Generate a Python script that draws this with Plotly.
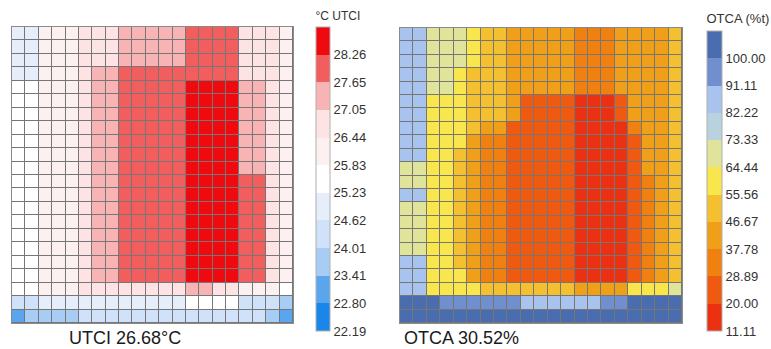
import plotly.graph_objects as go

W, H = 771, 349

# ---------------- data ----------------
utci_rows = [
    [24.9,24.9,26.1,26.1,26.1,26.7,26.7,26.7,27.4,27.4,27.4,27.4,27.4,28.0,28.0,28.0,28.0,26.7,26.7,26.7,26.1],
    [24.9,24.9,26.1,26.1,26.1,26.7,26.7,26.7,27.4,27.4,27.4,27.4,27.4,28.0,28.0,28.0,28.0,26.7,26.7,26.7,26.1],
    [24.9,24.9,26.1,26.1,26.1,26.7,26.7,26.7,27.4,27.4,27.4,27.4,27.4,28.0,28.0,28.0,28.0,26.7,26.7,26.7,26.1],
    [24.9,24.9,26.1,26.1,26.1,26.7,27.4,27.4,28.0,28.0,28.0,28.0,28.0,28.0,28.0,28.0,28.0,26.7,26.7,26.7,26.1],
    [25.5,25.5,26.1,26.1,26.1,26.7,27.4,27.4,28.0,28.0,28.0,28.0,28.0,28.6,28.6,28.6,28.6,27.4,27.4,26.7,26.1],
    [25.5,25.5,26.1,26.1,26.1,26.7,27.4,27.4,28.0,28.0,28.0,28.0,28.0,28.6,28.6,28.6,28.6,27.4,27.4,26.7,26.1],
    [25.5,25.5,26.1,26.1,26.1,26.7,27.4,27.4,28.0,28.0,28.0,28.0,28.0,28.6,28.6,28.6,28.6,27.4,27.4,26.7,26.1],
    [25.5,25.5,26.1,26.1,26.1,26.7,27.4,27.4,28.0,28.0,28.0,28.0,28.0,28.6,28.6,28.6,28.6,27.4,27.4,26.7,26.1],
    [25.5,25.5,26.1,26.1,26.1,26.7,27.4,27.4,28.0,28.0,28.0,28.0,28.0,28.6,28.6,28.6,28.6,27.4,27.4,26.7,26.1],
    [25.5,25.5,26.1,26.1,26.1,26.7,27.4,27.4,28.0,28.0,28.0,28.0,28.0,28.6,28.6,28.6,28.6,27.4,27.4,26.7,26.1],
    [25.5,25.5,26.1,26.1,26.1,26.7,27.4,27.4,28.0,28.0,28.0,28.0,28.0,28.6,28.6,28.6,28.6,27.4,27.4,26.7,26.1],
    [25.5,25.5,26.1,26.1,26.1,26.7,27.4,27.4,28.0,28.0,28.0,28.0,28.0,28.6,28.6,28.6,28.6,28.0,28.0,26.7,26.1],
    [25.5,25.5,26.1,26.1,26.1,26.7,27.4,27.4,28.0,28.0,28.0,28.0,28.0,28.6,28.6,28.6,28.6,28.0,28.0,26.7,26.1],
    [25.5,25.5,26.1,26.1,26.1,26.7,27.4,27.4,28.0,28.0,28.0,28.0,28.0,28.6,28.6,28.6,28.6,28.0,28.0,26.7,26.1],
    [25.5,25.5,26.1,26.1,26.1,26.7,27.4,27.4,28.0,28.0,28.0,28.0,28.0,28.6,28.6,28.6,28.6,28.0,28.0,26.7,26.1],
    [25.5,25.5,26.1,26.1,26.1,26.7,27.4,27.4,28.0,28.0,28.0,28.0,28.0,28.6,28.6,28.6,28.6,28.0,28.0,26.7,26.1],
    [25.5,25.5,26.1,26.1,26.1,26.7,27.4,27.4,28.0,28.0,28.0,28.0,28.0,28.6,28.6,28.6,28.6,28.0,28.0,26.7,26.1],
    [25.5,25.5,26.1,26.1,26.1,26.7,27.4,27.4,28.0,28.0,28.0,28.0,28.0,28.6,28.6,28.6,28.6,28.0,28.0,26.7,26.1],
    [25.5,25.5,26.1,26.1,26.1,26.7,27.4,27.4,28.0,28.0,28.0,28.0,28.0,28.6,28.6,28.6,28.6,28.0,28.0,26.7,26.1],
    [25.5,25.5,26.1,26.1,26.1,26.7,26.7,26.7,26.7,26.7,26.7,26.7,26.7,27.4,27.4,26.7,26.7,26.1,26.1,26.1,25.5],
    [24.3,24.3,24.9,24.9,24.9,24.9,24.9,24.9,24.9,24.9,24.9,24.9,24.9,25.5,25.5,25.5,25.5,24.3,24.3,24.3,23.7],
    [23.1,23.7,23.7,23.7,23.7,24.3,24.3,24.3,24.3,24.3,24.3,24.3,24.3,24.3,24.3,24.3,24.3,24.3,24.3,23.7,23.1],
]

otca_rows = [
    [87,87,69,69,69,60,51,51,42,42,42,42,42,33,33,33,42,42,42,42,51],
    [87,87,69,69,69,60,51,51,42,42,42,42,42,33,33,33,42,42,42,42,51],
    [87,87,69,69,69,60,51,51,42,42,42,42,42,33,33,33,42,42,42,42,51],
    [87,87,69,69,60,51,51,51,42,42,42,42,42,33,33,33,42,42,42,42,51],
    [87,87,69,69,60,51,51,51,42,42,42,42,42,33,33,33,42,42,42,42,51],
    [87,87,60,60,60,51,51,51,42,24,24,24,24,15,15,15,24,42,42,42,51],
    [87,87,60,60,60,51,51,51,42,24,24,24,24,15,15,15,24,42,42,42,51],
    [87,87,60,60,60,51,42,42,24,24,24,24,24,15,15,15,15,33,42,42,51],
    [87,87,60,60,60,42,33,33,24,24,24,24,24,15,15,15,15,24,42,42,51],
    [87,87,60,60,51,42,33,33,24,24,24,24,24,15,15,15,15,24,42,42,51],
    [69,69,60,60,51,42,33,33,24,24,24,24,24,15,15,15,15,24,42,42,51],
    [69,69,60,60,51,42,33,33,24,24,24,24,24,15,15,15,15,24,33,42,51],
    [87,87,60,60,51,42,33,33,24,24,24,24,24,15,15,15,15,24,33,42,51],
    [69,69,60,60,51,42,33,33,24,24,24,24,24,15,15,15,15,24,33,42,51],
    [69,69,60,60,51,42,33,33,24,24,24,24,24,15,15,15,15,24,33,42,51],
    [69,69,60,60,51,42,33,33,24,24,24,24,24,15,15,15,15,24,33,42,51],
    [69,69,60,60,51,42,33,33,24,24,24,24,24,15,15,15,15,24,33,42,51],
    [87,87,60,60,51,42,33,33,24,24,24,24,24,15,15,15,15,24,33,42,51],
    [87,87,60,60,60,42,33,33,24,24,24,24,24,15,15,15,15,24,33,42,51],
    [87,87,60,60,60,60,51,51,51,51,51,51,51,42,42,42,42,60,60,60,69],
    [100,100,100,95,95,95,95,95,95,87,87,87,87,87,87,95,95,100,100,100,100],
    [100,100,100,100,100,100,100,100,100,100,100,100,100,100,100,100,100,100,100,100,100],
]

utci_ticks = [22.19, 22.80, 23.41, 24.01, 24.62, 25.23, 25.83, 26.44, 27.05, 27.65, 28.26]
otca_ticks = [11.11, 20.00, 28.89, 37.78, 46.67, 55.56, 64.44, 73.33, 82.22, 91.11, 100.00]

utci_colors = ["#1a86ea", "#5aa6ee", "#a7cdf5", "#cfe2f9", "#e6eefb", "#ffffff",
               "#fdf0f0", "#fde3e3", "#f8b4b4", "#f25e5e", "#ee0a0f"]
otca_colors = ["#ec3012", "#f05a10", "#f08010", "#f0a018", "#f5c030", "#f8e64c",
               "#dfe49a", "#b8d2e0", "#a8c4ee", "#6f8fcf", "#4a6db0"]

utci_label = "UTCI 26.68°C"
otca_label = "OTCA 30.52%"
utci_title = "°C UTCI"
otca_title = "OTCA (%t)"


def discrete(colors):
    n = len(colors)
    cs = []
    for i, c in enumerate(colors):
        cs.append([i / n, c])
        cs.append([(i + 1) / n, c])
    return cs


FONT = "Liberation Sans, Arial, sans-serif"

fig = go.Figure()

fig.add_trace(go.Heatmap(
    z=utci_rows, xaxis="x", yaxis="y",
    colorscale=discrete(utci_colors),
    zmin=utci_ticks[0], zmax=28.87,
    xgap=1, ygap=1, hoverinfo="skip",
    colorbar=dict(
        x=316 / W, xanchor="left", xpad=0, ypad=0,
        y=1 - 8 / H, yanchor="top", len=323 / H, lenmode="fraction",
        thickness=14, outlinewidth=1, outlinecolor="#b0b0b0",
        tickvals=utci_ticks, ticktext=["%.2f" % t for t in utci_ticks],
        ticks="", tickfont=dict(family=FONT, size=13, color="#333333"),
        title=dict(text=utci_title, side="top", font=dict(family=FONT, size=12, color="#333333")),
    ),
))

fig.add_trace(go.Heatmap(
    z=otca_rows, xaxis="x2", yaxis="y2",
    colorscale=discrete(otca_colors),
    zmin=otca_ticks[0], zmax=108.8,
    xgap=1, ygap=1, hoverinfo="skip",
    colorbar=dict(
        x=707 / W, xanchor="left", xpad=0, ypad=0,
        y=1 - 11 / H, yanchor="top", len=320 / H, lenmode="fraction",
        thickness=15, outlinewidth=1, outlinecolor="#b0b0b0",
        tickvals=otca_ticks, ticktext=["%.2f" % t for t in otca_ticks],
        ticks="", tickfont=dict(family=FONT, size=13, color="#333333"),
        title=dict(text=otca_title, side="top", font=dict(family=FONT, size=13, color="#333333")),
    ),
))

ax = dict(showticklabels=False, ticks="", showgrid=False, zeroline=False,
          showline=True, mirror=True, linecolor="#8a8a8a", linewidth=1)

fig.update_layout(
    width=W, height=H,
    margin=dict(l=0, r=0, t=0, b=0),
    paper_bgcolor="white",
    plot_bgcolor="#767676",
    font=dict(family=FONT),
    xaxis=dict(domain=[12 / W, 293 / W], **ax),
    yaxis=dict(domain=[1 - 323 / H, 1 - 27 / H], autorange="reversed", **ax),
    xaxis2=dict(domain=[400 / W, 682 / W], anchor="y2", **ax),
    yaxis2=dict(domain=[1 - 323 / H, 1 - 28 / H], anchor="x2", autorange="reversed", **ax),
    annotations=[
        dict(text=utci_label, x=125 / W, y=1 - 338 / H, xref="paper", yref="paper",
             xanchor="center", yanchor="middle", showarrow=False,
             font=dict(family=FONT, size=18, color="#1a1a1a")),
        dict(text=otca_label, x=461 / W, y=1 - 338 / H, xref="paper", yref="paper",
             xanchor="center", yanchor="middle", showarrow=False,
             font=dict(family=FONT, size=18, color="#1a1a1a")),
    ],
)

fig.write_html("out.html")
